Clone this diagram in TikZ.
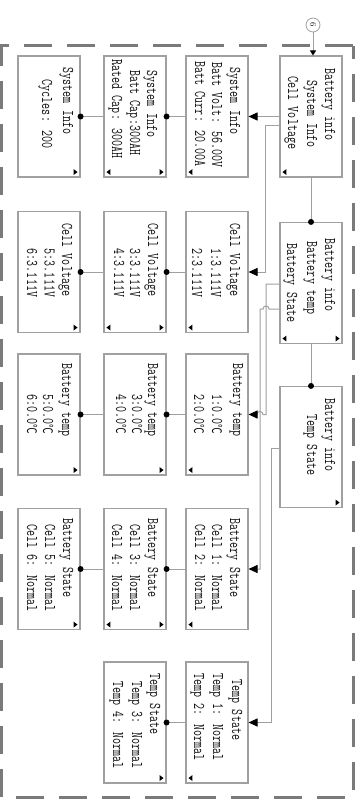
\documentclass[tikz,border=0pt]{standalone}
\usepackage{fontspec}
\newfontfamily\cjk{Noto Sans CJK SC}
\usetikzlibrary{arrows.meta,calc}
\definecolor{boxgray}{HTML}{A0A0A0}
\definecolor{linegray}{HTML}{A0A0A0}
\definecolor{dashgray}{HTML}{7A7A7A}
\definecolor{txt}{HTML}{111111}
\newcommand\celsiusmark{{\cjk\fontsize{9.5}{9.5}\selectfont ℃}}
\newcommand\lcdL[1]{\fill[black] ($(#1.south west)+(3,-5.5)$) -- ++(4,-3) -- ++(0,6) -- cycle;}
\newcommand\lcdR[1]{\fill[black] ($(#1.south east)+(-3,-5.5)$) -- ++(-4,-3) -- ++(0,6) -- cycle;}
\tikzset{
  lcdbox/.style={draw=boxgray, line width=1.1pt, minimum width=62pt, minimum height=121pt, inner sep=0pt},
  ln/.style={rotate=-90, yscale=1.4, font=\ttfamily\fontsize{11.7}{12}\selectfont, text=txt, inner sep=0pt, text height=7pt, text depth=0pt},
  conn/.style={draw=linegray, line width=1pt},
  arr/.style={conn, -{Triangle[length=9pt,width=8pt,fill=black,color=black]}},
  dotmark/.style={fill=black},
}
\begin{document}
\begin{tikzpicture}[x=1pt,y=-1pt]
\useasboundingbox (0,0) rectangle (358,799);
\fill[white] (0,0) rectangle (358,799);
% dashed frame
\draw[dashgray, line width=3pt, dash pattern=on 28pt off 15pt] (353,46) -- (1,46) -- (1,797) -- (353,797) -- cycle;

% boxes
\node[lcdbox] (a) at (311,116.5) {};
\node[lcdbox] (b) at (311,283) {};
\node[lcdbox] (c) at (311,447) {};
\node[lcdbox] (s1) at (217,116.5) {};
\node[lcdbox] (s2) at (135,116.5) {};
\node[lcdbox] (s3) at (49,116.5) {};
\node[lcdbox] (v1) at (217,272) {};
\node[lcdbox] (v2) at (135,272) {};
\node[lcdbox] (v3) at (49,272) {};
\node[lcdbox] (t1) at (217,414.5) {};
\node[lcdbox] (t2) at (135,414.5) {};
\node[lcdbox] (t3) at (49,414.5) {};
\node[lcdbox] (st1) at (217,569) {};
\node[lcdbox] (st2) at (135,569) {};
\node[lcdbox] (st3) at (49,569) {};
\node[lcdbox] (ts1) at (217,722.5) {};
\node[lcdbox] (ts2) at (135,722.5) {};

% texts
\node[ln] (a1) at (330,104.5) {Battery info};
\node[ln] (a2) at (312,114) {System Info};
\node[ln] (a3) at (293,113) {Cell Voltage};
\node[ln] (s1a) at (235,101) {System Info};
\node[ln] (s1b) at (217,115) {Batt Volt: 56.00V};
\node[ln] (s1c) at (200,114) {Batt Curr: 20.00A};
\node[ln] (s2a) at (152,104) {System Info};
\node[ln] (s2b) at (135,113) {Batt Cap:300AH};
\node[ln] (s2c) at (117,109) {Rated Cap: 300AH};
\node[ln] (s3a) at (68,101) {System Info};
\node[ln] (s3b) at (47,114) {Cycles: 200};

\node[ln] (v1a) at (235,260) {Cell Voltage};
\node[ln] (v1b) at (216,273) {1:3.111V};
\node[ln] (v1c) at (197,273) {2:3.111V};
\node[ln] (v2a) at (153,260) {Cell Voltage};
\node[ln] (v2b) at (135,273) {3:3.111V};
\node[ln] (v2c) at (119,273) {4:3.111V};
\node[ln] (v3a) at (67,260) {Cell Voltage};
\node[ln] (v3b) at (49.5,273) {5:3.111V};
\node[ln] (v3c) at (32,273) {6:3.111V};

\node[ln] (b1) at (330,275) {Battery info};
\node[ln] (b2) at (312,278) {Battery temp};
\node[ln] (b3) at (292,283) {Battery State};

\node[ln] (t1a) at (238,400) {Battery temp};
\node[ln] (t1b) at (217,414) {1:0.0\celsiusmark};
\node[ln] (t1c) at (199,414) {2:0.0\celsiusmark};
\node[ln] (t2a) at (153,400) {Battery temp};
\node[ln] (t2b) at (137,414) {3:0.0\celsiusmark};
\node[ln] (t2c) at (121,414) {4:0.0\celsiusmark};
\node[ln] (t3a) at (67,400) {Battery temp};
\node[ln] (t3b) at (48,414) {5:0.0\celsiusmark};
\node[ln] (t3c) at (32,414) {6:0.0\celsiusmark};

\node[ln] (c1) at (330,435) {Battery info};
\node[ln] (c2) at (312,445) {Temp State};

\node[ln] (st1a) at (235,558) {Battery State};
\node[ln] (st1b) at (217,568) {Cell 1: Normal};
\node[ln] (st1c) at (200,568) {Cell 2: Normal};
\node[ln] (st2a) at (153,558) {Battery State};
\node[ln] (st2b) at (135,568) {Cell 3: Normal};
\node[ln] (st2c) at (117,568) {Cell 4: Normal};
\node[ln] (st3a) at (68,558) {Battery State};
\node[ln] (st3b) at (50,568) {Cell 5: Normal};
\node[ln] (st3c) at (32,568) {Cell 6: Normal};

\node[ln] (ts1a) at (237,710) {Temp State};
\node[ln] (ts1b) at (218,717) {Temp 1: Normal};
\node[ln] (ts1c) at (199,717) {Temp 2: Normal};
\node[ln] (ts2a) at (155,704) {Temp State};
\node[ln] (ts2b) at (137,725) {Temp 3: Normal};
\node[ln] (ts2c) at (118,725) {Temp 4: Normal};

% scroll marks
\lcdL{a}
\lcdL{b}\lcdR{b}
\lcdR{c}
\lcdL{s1}\lcdL{v1}\lcdL{t1}\lcdL{st1}\lcdL{ts1}
\lcdL{s2}\lcdR{s2}
\lcdL{v2}\lcdR{v2}
\lcdR{t2}
\lcdL{st2}\lcdR{st2}
\lcdR{ts2}
\lcdR{s3}\lcdR{v3}\lcdR{t3}\lcdR{st3}

% circled 6
\node[circle, draw=linegray, line width=0.8pt, minimum size=14pt, inner sep=0pt] (c6) at (313,25) {};
\node[rotate=-90, font=\fontsize{8.5}{8.5}\selectfont, text=txt, inner sep=0pt] (c6t) at (c6.center) {6};
\draw[conn, -{Triangle[length=5pt,width=6pt,fill=black,color=black]}] (c6.south) -- (c6.south |- a.north);

% main column connectors
\draw[conn] (a.south) -- (b.north);
\fill[dotmark] (b.north) circle (3);
\draw[conn] (b.south) -- (c.north);
\fill[dotmark] (c.north) circle (3);

% rows
\draw[arr] (a.west) -- (s1.east);
\foreach \p/\q in {s1/s2, s2/s3, v1/v2, v2/v3, t1/t2, t2/t3, st1/st2, st2/st3, ts1/ts2} {
  \draw[conn] (\p.west) -- (\q.east);
  \fill[dotmark] (\q.east) circle (3);
}

% branch lines
\coordinate (l0a) at ($(a.west)+(0,9.5)$);
\coordinate (l0b) at (265,126);
\draw[arr] (l0a) -- (l0b) |- (v1.east);

\coordinate (l1a) at ($(b.west)+(0,1)$);
\coordinate (l1b) at (266,284);
\coordinate (l1c) at (266,414.5);
\draw[arr] (l1a) -- (l1b) -- (l1c) -- (263,414.5) .. controls (263,410.5) and (257,410.5) .. (257,414.5) -- (t1.east);

\coordinate (l2a) at ($(b.west)+(0,26)$);
\coordinate (l2c) at (260,309);
\draw[arr] (l2a) -- (269,309) .. controls (269,305) and (263,305) .. (263,309) -- (l2c) |- (st1.east);

\coordinate (l3a) at ($(c.west)+(0,1)$);
\coordinate (l3b) at (271,448);
\draw[arr] (l3a) -- (l3b) |- (ts1.east);
\end{tikzpicture}
\end{document}
